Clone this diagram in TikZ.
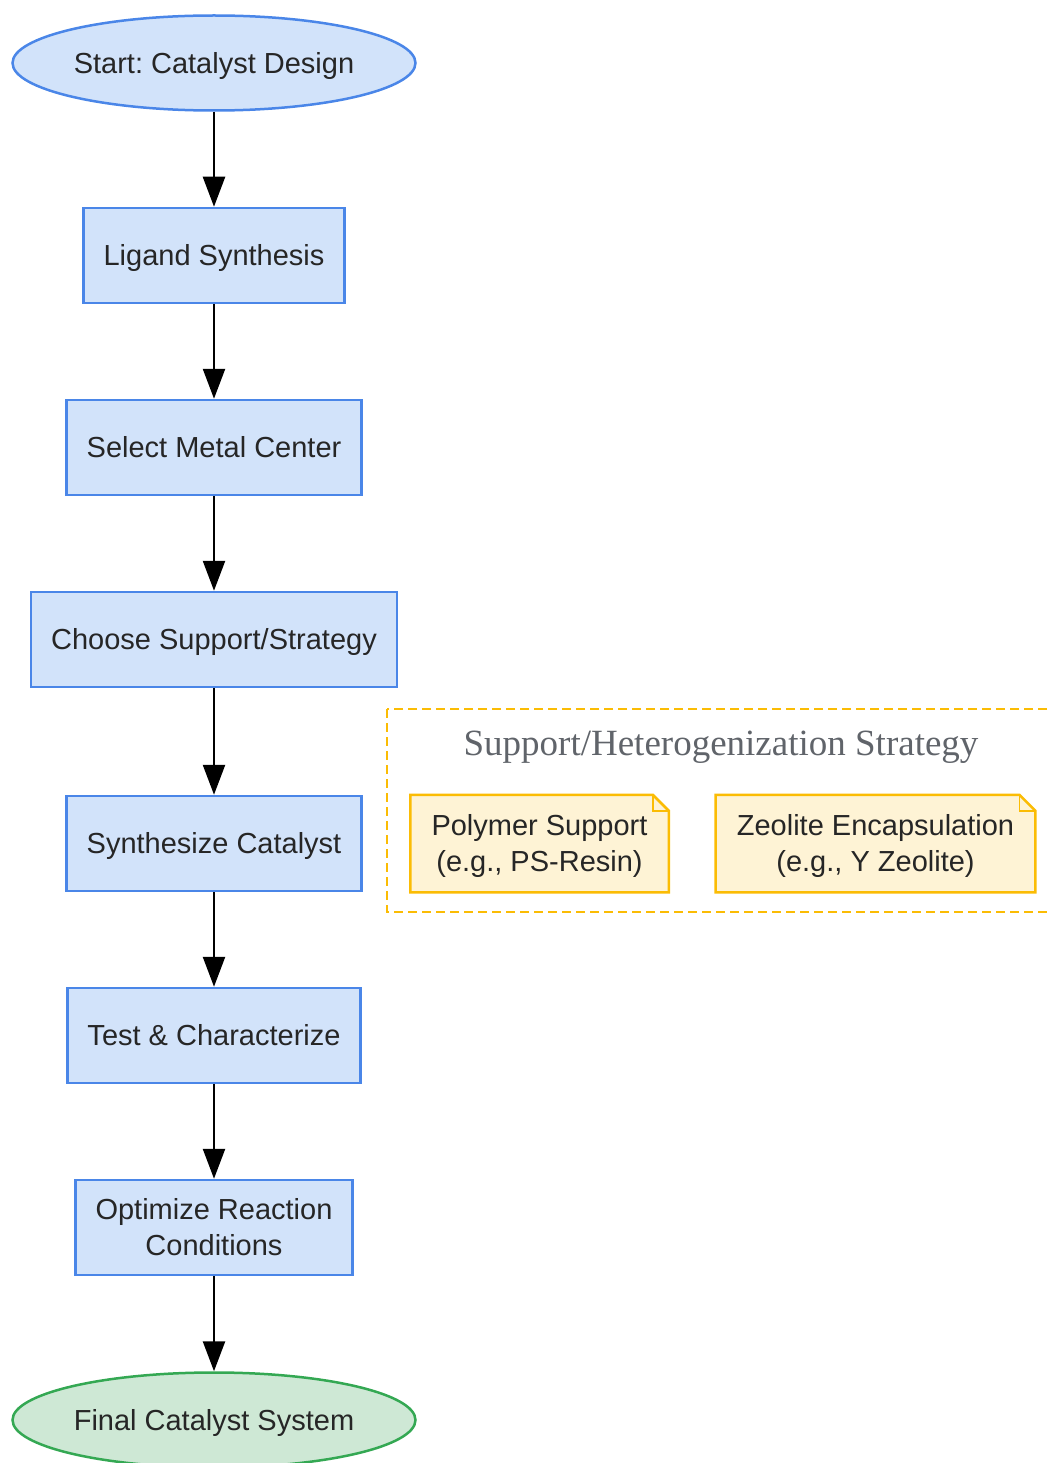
\documentclass[tikz,border=0pt]{standalone}
\usepackage{fontspec}
\setmainfont{Liberation Sans}
\newfontfamily\titlefont{Liberation Serif}
\usetikzlibrary{shapes.geometric,arrows.meta,backgrounds}
\frenchspacing

\definecolor{stepfill}{HTML}{D2E3FA}
\definecolor{stepline}{HTML}{4A86E8}
\definecolor{endfill}{HTML}{CEE8D5}
\definecolor{endline}{HTML}{34A853}
\definecolor{notefill}{HTML}{FEF3D5}
\definecolor{noteline}{HTML}{FBBC04}
\definecolor{txt}{HTML}{262626}
\definecolor{titlegray}{HTML}{60646A}

\begin{document}
\begin{tikzpicture}[x = 1pt, y = -1pt, line width = 2.5pt,
                    terminal/.style = {ellipse, draw = stepline, fill = stepfill, minimum width = 403pt,
                                       minimum height = 95pt, inner sep = 0pt, text = txt, text depth = 1pt,
                                       font = \fontsize{29}{36}\selectfont},
                    stepbox/.style = {rectangle, draw = stepline, fill = stepfill, minimum height = 95pt,
                                      inner xsep = 20pt, align = center, text = txt, text depth = 1pt,
                                      font = \fontsize{29}{36}\selectfont},
                    notebox/.style = {rectangle, minimum height = 95pt, inner xsep = 20pt, align = center,
                                      text = txt, text depth = 1pt, font = \fontsize{29}{36}\selectfont},
                    flow/.style = {-{Triangle[length = 30pt, width = 22pt]}, line width = 2.5pt, black}]

\useasboundingbox (0,0) rectangle (1047,1463);

% strategy group
\draw[noteline, dash pattern = on 9pt off 5pt] (387,709) rectangle (1060,912);
\node (grouptitle) at (721,744) [text = titlegray, text depth = 1pt,
      font = \titlefont\fontsize{37}{44}\selectfont] {Support/Heterogenization Strategy};

% main flow
\node [terminal] (start) at (214,63) {Start: Catalyst Design};
\node [stepbox] (ligand) at (214,255.5) {Ligand Synthesis};
\node [stepbox] (metal) at (214,447.5) {Select Metal Center};
\node [stepbox] (support) at (214,639.5) {Choose Support/Strategy};
\node [stepbox] (synth) at (214,843.5) {Synthesize Catalyst};
\node [stepbox] (test) at (214,1035.5) {Test \& Characterize};
\node [stepbox] (optim) at (214,1227.5) {Optimize Reaction\\Conditions};
\node [terminal, draw = endline, fill = endfill] (final) at (214,1420) {Final Catalyst System};

\foreach \a/\b in {start/ligand, ligand/metal, metal/support, support/synth,
                   synth/test, test/optim, optim/final}
  \draw[flow] (\a) -- (\b);

% strategy notes
\node [notebox] (polymer) at (539.5,843.5) {Polymer Support\\(e.g., PS-Resin)};
\node [notebox] (zeolite) at (875.5,843.5) {Zeolite Encapsulation\\(e.g., Y Zeolite)};

\begin{pgfonlayer}{background}
\foreach \n in {polymer, zeolite} {
  \draw[noteline, fill = notefill, line width = 2.5pt] (\n.north west) -- ([xshift = -16pt]\n.north east)
        -- ([yshift = -16pt]\n.north east) -- (\n.south east) -- (\n.south west) -- cycle;
  \draw[noteline, line width = 1.5pt] ([xshift = -16pt]\n.north east)
        -- ([xshift = -16pt, yshift = -16pt]\n.north east) -- ([yshift = -16pt]\n.north east);
}
\end{pgfonlayer}
\end{tikzpicture}
\end{document}
